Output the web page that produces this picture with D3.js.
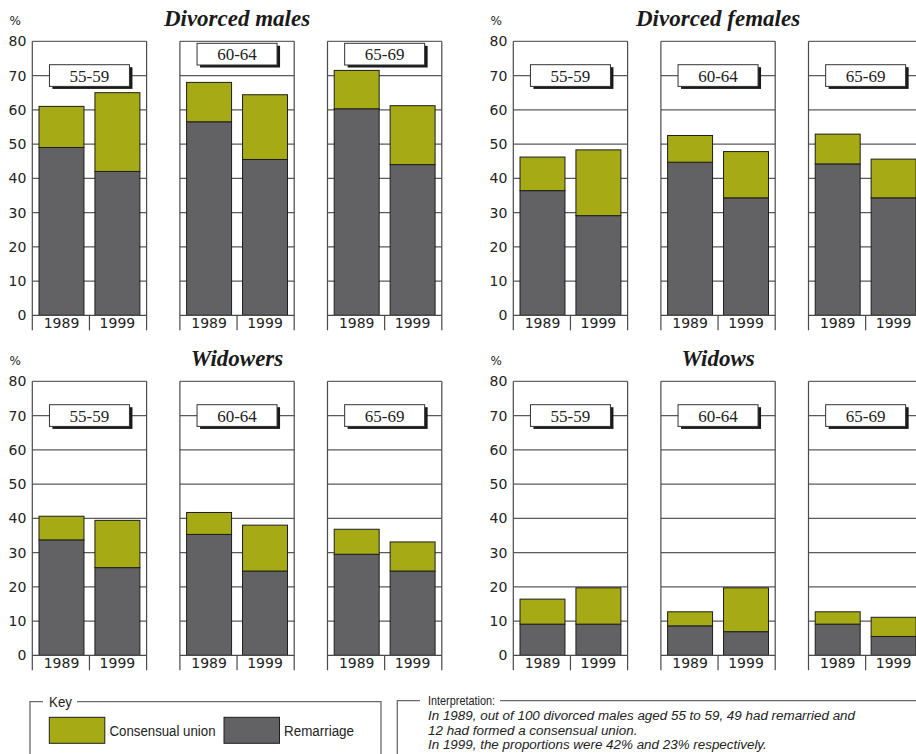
<!DOCTYPE html>
<html><head><meta charset="utf-8">
<script src="https://cdn.jsdelivr.net/npm/d3@7"></script>
<style>
html,body{margin:0;padding:0;background:#fff;}
svg{display:block;}
</style></head>
<body>
<script>
// ---- DATA ----
const groups = ["Divorced males", "Divorced females", "Widowers", "Widows"];
const ageBands = ["55-59", "60-64", "65-69"];
const years = ["1989", "1999"];
const yTicks = [0, 10, 20, 30, 40, 50, 60, 70, 80];
// values ordered: 55-59 (1989, 1999), 60-64 (1989, 1999), 65-69 (1989, 1999)
const remarriageDivorcedMales   = [49, 42, 56.5, 45.5, 60.3, 44];
const consensualDivorcedMales   = [12, 23, 11.5, 18.9, 11.2, 17.2];
const remarriageDivorcedFemales = [36.4, 29.1, 44.7, 34.3, 44.2, 34.3];
const consensualDivorcedFemales = [9.8, 19.2, 7.8, 13.5, 8.7, 11.3];
const remarriageWidowers        = [33.7, 25.6, 35.3, 24.6, 29.5, 24.6];
const consensualWidowers        = [6.9, 13.8, 6.4, 13.4, 7.3, 8.5];
const remarriageWidows          = [9.1, 9.1, 8.6, 6.9, 9.1, 5.5];
const consensualWidows          = [7.3, 10.6, 4.1, 12.8, 3.6, 5.6];
const seriesNames = ["Consensual union", "Remarriage"];
const interpretationLines = [
  "In 1989, out of 100 divorced males aged 55 to 59, 49 had remarried and",
  "12 had formed a consensual union.",
  "In 1999, the proportions were 42% and 23% respectively."
];

const remarriageByGroup = [remarriageDivorcedMales, remarriageDivorcedFemales, remarriageWidowers, remarriageWidows];
const consensualByGroup = [consensualDivorcedMales, consensualDivorcedFemales, consensualWidowers, consensualWidows];

// ---- STYLE ----
const W = 916, H = 754;
const colConsensual = "#a6aa14";
const colRemarriage = "#626264";
const lineCol = "#4a4a4a";
const sansFont = "'DejaVu Sans', sans-serif";
const narrowFont = "'Liberation Sans', Arial, sans-serif";
const serifFont = "'Liberation Serif', serif";

const svg = d3.select("body").append("svg").attr("width", W).attr("height", H);

const blockX = [32.3, 513.3];
const blockWidth = 409.5;
const rowY0 = [315.3, 655.3];
const plotH = 274;

groups.forEach((g, gi) => {
  const col = gi % 2, row = Math.floor(gi / 2);
  const y = d3.scaleLinear().domain([0, 80]).range([rowY0[row], rowY0[row] - plotH]);
  const xPanel = d3.scaleBand().domain(ageBands).range([blockX[col], blockX[col] + blockWidth])
    .paddingInner(0.2256).paddingOuter(0);
  const pw = xPanel.bandwidth();
  const gBlock = svg.append("g");

  // title
  gBlock.append("text")
    .attr("x", blockX[col] + blockWidth / 2)
    .attr("y", y(80) - 15)
    .attr("text-anchor", "middle")
    .style("font-family", serifFont).style("font-style", "italic").style("font-weight", "bold")
    .style("font-size", "23px").attr("fill", "#1a1a1a")
    .text(g);

  // % sign
  gBlock.append("text")
    .attr("x", blockX[col] - 17).attr("y", y(80) - 16)
    .attr("text-anchor", "middle")
    .style("font-family", sansFont).style("font-size", "12px").attr("fill", "#222")
    .text("%");

  // y axis labels
  const yAxis = d3.axisLeft(y).tickValues(yTicks).tickSize(0).tickPadding(6);
  const ax = gBlock.append("g").attr("transform", `translate(${blockX[col]},0)`).call(yAxis);
  ax.select(".domain").remove();
  ax.selectAll("text").style("font-family", sansFont).style("font-size", "14px").attr("fill", "#222");

  ageBands.forEach((ab, ai) => {
    const L = xPanel(ab);
    const gp = gBlock.append("g");
    const xYear = d3.scaleBand().domain(years).range([L, L + pw]).paddingInner(0.196).paddingOuter(0.12);

    // gridlines 10..70
    gp.selectAll("line.grid").data(yTicks.filter(t => t > 0 && t < 80)).join("line")
      .attr("x1", L).attr("x2", L + pw)
      .attr("y1", d => y(d)).attr("y2", d => y(d))
      .attr("stroke", "#5a5a5a").attr("stroke-width", 1.2);

    // panel frame: top, left, right (extending below), bottom axis
    gp.append("line").attr("x1", L).attr("x2", L + pw).attr("y1", y(80)).attr("y2", y(80))
      .attr("stroke", "#666").attr("stroke-width", 1.2);
    [L, L + pw].forEach(xx => {
      gp.append("line").attr("x1", xx).attr("x2", xx).attr("y1", y(80)).attr("y2", y(0) + 15)
        .attr("stroke", lineCol).attr("stroke-width", 1.2);
    });
    gp.append("line").attr("x1", L + pw / 2).attr("x2", L + pw / 2).attr("y1", y(0)).attr("y2", y(0) + 15)
      .attr("stroke", lineCol).attr("stroke-width", 1.2);

    // bars
    const idx = [ai * 2, ai * 2 + 1];
    const barData = years.map((yr, k) => ({
      year: yr,
      rem: remarriageByGroup[gi][idx[k]],
      cons: consensualByGroup[gi][idx[k]]
    }));
    const bars = gp.selectAll("g.bar").data(barData).join("g");
    bars.append("rect")
      .attr("x", d => xYear(d.year)).attr("width", xYear.bandwidth())
      .attr("y", d => y(d.rem)).attr("height", d => y(0) - y(d.rem))
      .attr("fill", colRemarriage).attr("stroke", "#1e1e1e").attr("stroke-width", 1);
    bars.append("rect")
      .attr("x", d => xYear(d.year)).attr("width", xYear.bandwidth())
      .attr("y", d => y(d.rem + d.cons)).attr("height", d => y(d.rem) - y(d.rem + d.cons))
      .attr("fill", colConsensual).attr("stroke", "#1e1e1e").attr("stroke-width", 1);

    // bottom axis line
    gp.append("line").attr("x1", L).attr("x2", L + pw).attr("y1", y(0)).attr("y2", y(0))
      .attr("stroke", lineCol).attr("stroke-width", 1.2);

    // year labels
    const xa = gp.append("g").attr("transform", `translate(0,${y(0)})`)
      .call(d3.axisBottom(xYear).tickSize(0).tickPadding(3));
    xa.select(".domain").remove();
    xa.selectAll("text").style("font-family", sansFont).style("font-size", "14px").attr("fill", "#222");

    // age band label box
    const maxTotal = d3.max(barData, d => d.rem + d.cons);
    const bw = 80, bh = 21.7;
    const bx = L + pw / 2 - bw / 2;
    const by = maxTotal > 66 ? y(80) + 2 : y(70) - bh / 2;
    gp.append("rect").attr("x", bx + 3).attr("y", by + 2.5).attr("width", bw).attr("height", bh)
      .attr("fill", "#1a1a1a");
    gp.append("rect").attr("x", bx).attr("y", by).attr("width", bw).attr("height", bh)
      .attr("fill", "#fff").attr("stroke", "#333").attr("stroke-width", 1);
    gp.append("text").attr("x", bx + bw / 2).attr("y", by + bh / 2 + 6)
      .attr("text-anchor", "middle")
      .style("font-family", serifFont).style("font-size", "17px").attr("fill", "#222")
      .text(ab);
  });
});

// ---- KEY ----
const frameCol = "#6a6a6a";
const key = svg.append("g");
key.append("path").attr("d", "M30,760 V701.7 H43 M77,701.7 H381 V760")
  .attr("fill", "none").attr("stroke", frameCol).attr("stroke-width", 1.3);
key.append("text").attr("x", 49).attr("y", 706.5)
  .attr("textLength", 23).attr("lengthAdjust", "spacingAndGlyphs")
  .style("font-family", narrowFont).style("font-size", "15px").attr("fill", "#222").text("Key");
const keyColors = [colConsensual, colRemarriage];
const keyX = [49.3, 224];
const keyTextX = [109.5, 284];
const keyTextW = [106, 70];
seriesNames.forEach((s, i) => {
  key.append("rect").attr("x", keyX[i]).attr("y", 717.3).attr("width", 55.5).attr("height", 26)
    .attr("fill", keyColors[i]).attr("stroke", "#1e1e1e").attr("stroke-width", 1);
  key.append("text").attr("x", keyTextX[i]).attr("y", 736)
    .attr("textLength", keyTextW[i]).attr("lengthAdjust", "spacingAndGlyphs")
    .style("font-family", narrowFont).style("font-size", "15.5px").attr("fill", "#222").text(s);
});

// ---- INTERPRETATION ----
const interp = svg.append("g");
interp.append("path").attr("d", "M397.3,760 V700.7 H420 M500,700.7 H920")
  .attr("fill", "none").attr("stroke", frameCol).attr("stroke-width", 1.3);
interp.append("text").attr("x", 428).attr("y", 705)
  .attr("textLength", 67).attr("lengthAdjust", "spacingAndGlyphs")
  .style("font-family", narrowFont).style("font-size", "13.5px").attr("fill", "#222").text("Interpretation:");
const interpSel = interp.selectAll("text.line").data(interpretationLines).join("text")
  .attr("x", 428).attr("y", (d, i) => [720, 734.5, 749][i])
  .style("font-family", narrowFont).style("font-style", "italic").style("font-size", "12.5px")
  .attr("fill", "#222").text(d => d);
// compress all lines by the same factor so the first line spans the reference width
const natural0 = interpSel.nodes()[0].getComputedTextLength();
const k = 427 / natural0;
interpSel.each(function () {
  const n = this.getComputedTextLength();
  d3.select(this).attr("textLength", n * k).attr("lengthAdjust", "spacingAndGlyphs");
});
</script>
</body></html>
